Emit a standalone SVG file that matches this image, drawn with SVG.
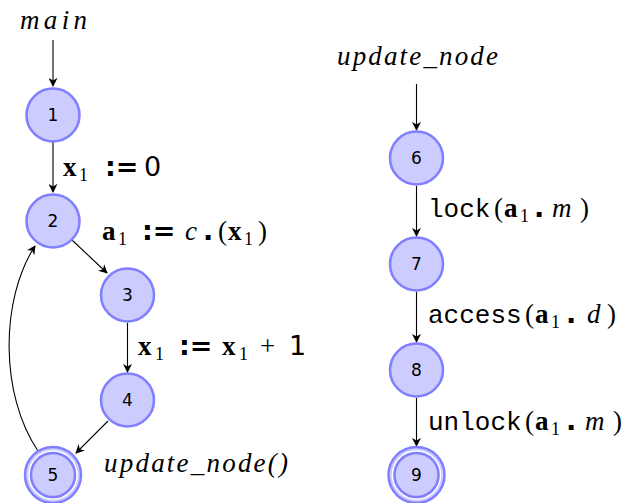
<svg xmlns="http://www.w3.org/2000/svg" width="625" height="503" viewBox="0 0 625 503">
<style>
.n{fill:#ccccff;stroke:#7f7fff;stroke-width:2.5}
.nt{font-family:"DejaVu Sans",sans-serif;font-size:17px;text-anchor:middle;fill:#000}
.e{fill:none;stroke:#000;stroke-width:1.1;marker-end:url(#ah)}
.m{font-family:"Liberation Serif",serif;font-size:27px;fill:#000}
.i{font-style:italic}
.b{font-weight:bold}
.s{font-family:"DejaVu Sans","Liberation Sans",sans-serif}
.tt{font-family:"Liberation Mono",monospace;font-size:26px}
.sub{font-size:18px}
</style>
<defs>
<marker id="ah" viewBox="0 0 10 10" refX="9" refY="5" markerWidth="9" markerHeight="9" markerUnits="userSpaceOnUse" orient="auto">
<path d="M0,0 L10,5 L0,10 L3,5 Z" fill="#000"/>
</marker>
</defs>
<g id="connectors">
<path class="e" d="M53,40 L53,86"/>
<path class="e" d="M53,142 L53,192"/>
<path class="e" d="M72,240 L107,273"/>
<path class="e" d="M127.5,323 L127.5,372"/>
<path class="e" d="M108,421 L76,453"/>
<path class="e" d="M38,451 C0,395 0,300 35,246"/>
<path class="e" d="M416.5,84 L416.5,130"/>
<path class="e" d="M416.5,186 L416.5,236"/>
<path class="e" d="M416.5,292 L416.5,342"/>
<path class="e" d="M416.5,398 L416.5,446"/>
</g>
<g id="labels">
<text class="m i" x="20" y="29" textLength="67" lengthAdjust="spacing">main</text>
<text class="m i" x="337" y="65" textLength="161" lengthAdjust="spacing">update_node</text>
<text class="m" y="176"><tspan class="b" x="63">x</tspan><tspan class="sub" x="79" dy="5">1</tspan><tspan class="s b" x="105" dy="-5">:=</tspan><tspan class="s" x="144">0</tspan></text>
<text class="m" y="240"><tspan class="b" x="102">a</tspan><tspan class="sub" x="118" dy="5">1</tspan><tspan class="s b" x="142" dy="-5">:=</tspan><tspan class="i" x="185">c</tspan><tspan class="s b" x="203">.</tspan><tspan x="218">(</tspan><tspan class="b" x="228">x</tspan><tspan class="sub" x="244" dy="5">1</tspan><tspan x="258" dy="-5">)</tspan></text>
<text class="m" y="355"><tspan class="b" x="138">x</tspan><tspan class="sub" x="155" dy="5">1</tspan><tspan class="s b" x="179" dy="-5">:=</tspan><tspan class="b" x="222">x</tspan><tspan class="sub" x="239" dy="5">1</tspan><tspan x="260" dy="-5">+</tspan><tspan class="s" x="289">1</tspan></text>
<text class="m i" x="104" y="472" textLength="184" lengthAdjust="spacing">update_node()</text>
<text class="m" y="217"><tspan class="tt" x="428">lock</tspan><tspan x="494">(</tspan><tspan class="b" x="504">a</tspan><tspan class="sub" x="520" dy="5">1</tspan><tspan class="s b" x="534" dy="-5">.</tspan><tspan class="i" x="552">m</tspan><tspan x="580">)</tspan></text>
<text class="m" y="323"><tspan class="tt" x="428">access</tspan><tspan x="525">(</tspan><tspan class="b" x="535">a</tspan><tspan class="sub" x="551" dy="5">1</tspan><tspan class="s b" x="566" dy="-5">.</tspan><tspan class="i" x="587">d</tspan><tspan x="607">)</tspan></text>
<text class="m" y="430"><tspan class="tt" x="428">unlock</tspan><tspan x="525">(</tspan><tspan class="b" x="535">a</tspan><tspan class="sub" x="551" dy="5">1</tspan><tspan class="s b" x="566" dy="-5">.</tspan><tspan class="i" x="585">m</tspan><tspan x="613">)</tspan></text>
</g>
<g id="node1"><circle class="n" cx="53" cy="115" r="26.5"/><text class="nt" x="53" y="121">1</text></g>
<g id="node2"><circle class="n" cx="53" cy="221" r="26.5"/><text class="nt" x="53" y="227">2</text></g>
<g id="node3"><circle class="n" cx="127.5" cy="295" r="26.5"/><text class="nt" x="127.5" y="301">3</text></g>
<g id="node4"><circle class="n" cx="127.5" cy="400" r="26.5"/><text class="nt" x="127.5" y="406">4</text></g>
<g id="node5"><circle class="n" cx="53" cy="475" r="28"/><circle cx="53" cy="475" r="24" fill="none" stroke="#fff" stroke-width="1.5"/><circle cx="53" cy="475" r="22" fill="none" stroke="#7f7fff" stroke-width="2.5"/><text class="nt" x="53" y="481">5</text></g>
<g id="node6"><circle class="n" cx="416.5" cy="158" r="26.5"/><text class="nt" x="416.5" y="164">6</text></g>
<g id="node7"><circle class="n" cx="416.5" cy="264" r="26.5"/><text class="nt" x="416.5" y="270">7</text></g>
<g id="node8"><circle class="n" cx="416.5" cy="370" r="26.5"/><text class="nt" x="416.5" y="376">8</text></g>
<g id="node9"><circle class="n" cx="416.5" cy="475" r="28"/><circle cx="416.5" cy="475" r="24" fill="none" stroke="#fff" stroke-width="1.5"/><circle cx="416.5" cy="475" r="22" fill="none" stroke="#7f7fff" stroke-width="2.5"/><text class="nt" x="416.5" y="481">9</text></g>
</svg>
